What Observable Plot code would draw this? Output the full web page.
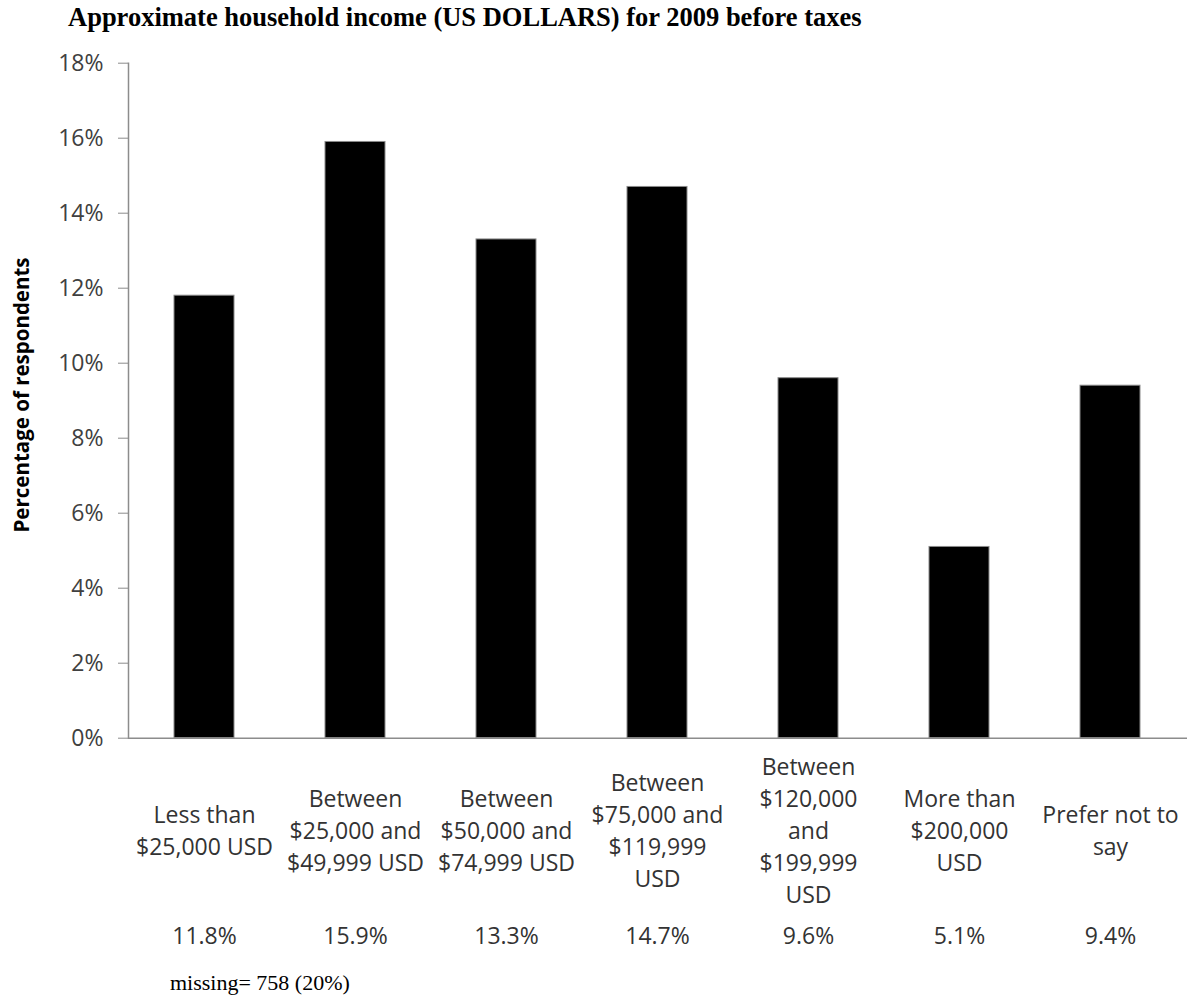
<!DOCTYPE html>
<html>
<head>
<meta charset="utf-8">
<script src="https://cdn.jsdelivr.net/npm/d3@7"></script>
<script src="https://cdn.jsdelivr.net/npm/@observablehq/plot@0.6"></script>
<style>
  html, body { margin: 0; padding: 0; background: #fff; }
  #wrap { position: relative; width: 1192px; height: 1006px; overflow: hidden; background: #fff; }
  #title { position: absolute; left: 68px; top: 1px; font-family: "Liberation Serif", "Times New Roman", serif; font-weight: bold; font-size: 26.5px; line-height: 32px; color: #000; white-space: nowrap; }
  #chart { position: absolute; left: 0; top: 40px; }
  #caption { position: absolute; left: 170px; top: 960px; font-family: "Liberation Serif", "Times New Roman", serif; font-size: 22px; line-height: 46px; color: #000; white-space: nowrap; }
</style>
</head>
<body>
<div id="wrap">
  <div id="title">Approximate household income (US DOLLARS) for 2009 before taxes</div>
  <div id="chart"></div>
  <div id="caption">missing= 758 (20%)</div>
</div>
<script>
const categories = [
  "Less than\n$25,000 USD",
  "Between\n$25,000 and\n$49,999 USD",
  "Between\n$50,000 and\n$74,999 USD",
  "Between\n$75,000 and\n$119,999\nUSD",
  "Between\n$120,000\nand\n$199,999\nUSD",
  "More than\n$200,000\nUSD",
  "Prefer not to\nsay"
];
const values = [11.8, 15.9, 13.3, 14.7, 9.6, 5.1, 9.4];
const yTicks = [0, 2, 4, 6, 8, 10, 12, 14, 16, 18];
const yLabel = "Percentage of respondents";

const data = categories.map((c, i) => ({cat: c, value: values[i]}));
const font = "'Open Sans', 'Noto Sans', sans-serif";

const chart = Plot.plot({
  width: 1192,
  height: 920,
  marginTop: 22.7,
  marginBottom: 222.3,
  marginLeft: 128,
  marginRight: 5,
  style: {fontFamily: font, background: "#fff"},
  x: {domain: categories, paddingInner: 0.6, paddingOuter: 0.3, axis: null},
  y: {domain: [0, 18], axis: null},
  marks: [
    Plot.barY(data, {x: "cat", y: "value", fill: "#000", stroke: "#8a8a8a", strokeWidth: 1}),
    Plot.ruleY([0], {stroke: "#8c8c8c", strokeWidth: 1.5}),
    Plot.frame({anchor: "left", stroke: "#8c8c8c", strokeWidth: 1.5}),
    Plot.axisY({
      ticks: yTicks,
      tickFormat: d => d + "%",
      tickSize: 10,
      tickPadding: 15,
      fontSize: 23,
      color: "#404040",
      stroke: "#8c8c8c",
      label: null
    }),
    Plot.text([yLabel], {
      frameAnchor: "left",
      text: d => d,
      rotate: -90,
      textAnchor: "middle",
      dx: -106.5,
      dy: -5.7,
      fontSize: 20.5,
      fontWeight: "bold",
      fill: "#000"
    }),
    Plot.text(data, {
      x: "cat",
      text: "cat",
      frameAnchor: "bottom",
      dy: 90.3,
      lineAnchor: "middle",
      lineHeight: 32 / 23,
      fontSize: 23,
      fill: "#333"
    }),
    Plot.text(data, {
      x: "cat",
      text: d => d.value.toFixed(1) + "%",
      frameAnchor: "bottom",
      dy: 198.3,
      lineAnchor: "middle",
      fontSize: 23,
      fill: "#333"
    })
  ]
});
document.getElementById("chart").appendChild(chart);
</script>
</body>
</html>
